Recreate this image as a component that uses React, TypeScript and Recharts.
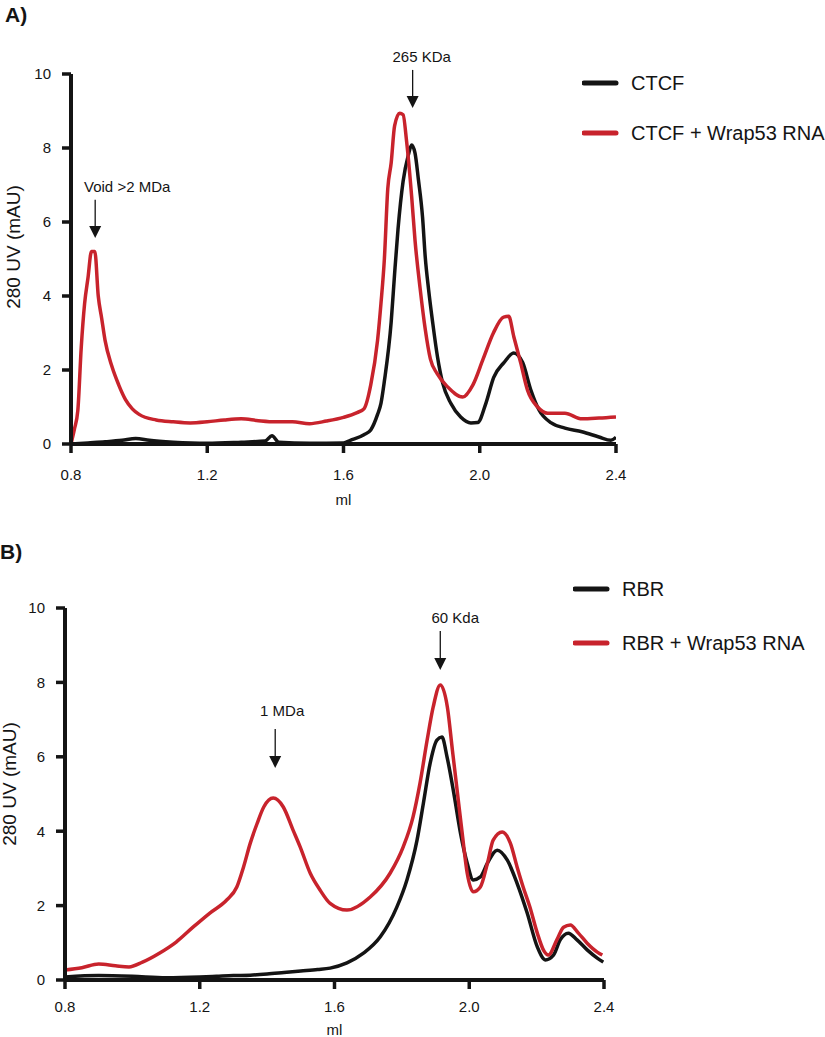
import { Legend, Line, LineChart, ReferenceLine, XAxis, YAxis } from "recharts"

const FONT = '"Liberation Sans", Arial, Helvetica, sans-serif'
const RED = "#c8232c"
const BLACK = "#141414"

const xTicks = [0.8, 1.2, 1.6, 2.0, 2.4]
const yTicks = [0, 2, 4, 6, 8, 10]

// panel A: CTCF
const ctcf = [
  [0.8, 0], [0.85, 0.03], [0.9, 0.06], [0.95, 0.1], [0.99, 0.15], [1.03, 0.1], [1.1, 0.05],
  [1.2, 0.02], [1.3, 0.05], [1.37, 0.08], [1.39, 0.22], [1.41, 0.05], [1.5, 0.02], [1.6, 0.03],
  [1.62, 0.1], [1.66, 0.25], [1.68, 0.38], [1.7, 0.8], [1.71, 1.1], [1.72, 1.7], [1.74, 3.3],
  [1.75, 4.6], [1.76, 5.8], [1.775, 7.1], [1.79, 7.8], [1.8, 8.08], [1.81, 7.86], [1.82, 7.14],
  [1.832, 6.14], [1.84, 5.05], [1.85, 4.16], [1.862, 3.27], [1.876, 2.35], [1.891, 1.65],
  [1.915, 1.1], [1.944, 0.73], [1.974, 0.57], [1.994, 0.58], [2.018, 1.1], [2.041, 1.8],
  [2.071, 2.2], [2.1, 2.46], [2.126, 2.2], [2.15, 1.46], [2.174, 0.92], [2.21, 0.57],
  [2.25, 0.43], [2.3, 0.33], [2.35, 0.19], [2.385, 0.1], [2.4, 0.18],
]

const ctcfRna = [
  [0.8, 0], [0.81, 0.4], [0.82, 0.9], [0.83, 2.6], [0.84, 3.8], [0.85, 4.5], [0.86, 5.2],
  [0.87, 5.2], [0.88, 4.0], [0.89, 3.4], [0.9, 2.8], [0.92, 2.1], [0.94, 1.6], [0.96, 1.2],
  [0.98, 0.95], [1.0, 0.8], [1.05, 0.65], [1.1, 0.6], [1.15, 0.57], [1.2, 0.6], [1.25, 0.65],
  [1.3, 0.68], [1.35, 0.63], [1.4, 0.6], [1.45, 0.6], [1.5, 0.55], [1.55, 0.62], [1.6, 0.72],
  [1.64, 0.85], [1.66, 0.95], [1.68, 1.6], [1.7, 2.8], [1.71, 3.8], [1.72, 5.0], [1.73, 6.9],
  [1.74, 7.6], [1.75, 8.6], [1.765, 8.94], [1.775, 8.9], [1.785, 8.2], [1.8, 6.7], [1.81, 5.5],
  [1.825, 4.2], [1.84, 3.1], [1.855, 2.3], [1.875, 1.9], [1.905, 1.55], [1.95, 1.27],
  [1.98, 1.6], [2.01, 2.3], [2.04, 3.0], [2.07, 3.43], [2.085, 3.45], [2.1, 2.9], [2.12, 2.2],
  [2.14, 1.46], [2.17, 1.0], [2.2, 0.83], [2.25, 0.83], [2.3, 0.68], [2.35, 0.7], [2.4, 0.73],
]

// panel B: RBR
const rbr = [
  [0.8, 0.08], [0.9, 0.12], [1.0, 0.1], [1.1, 0.06], [1.2, 0.08], [1.25, 0.1], [1.3, 0.12],
  [1.35, 0.13], [1.4, 0.16], [1.45, 0.2], [1.5, 0.24], [1.55, 0.28], [1.587, 0.32],
  [1.637, 0.46], [1.686, 0.72], [1.736, 1.16], [1.785, 1.96], [1.815, 2.69], [1.845, 3.76],
  [1.864, 4.76], [1.884, 5.83], [1.904, 6.45], [1.919, 6.53], [1.934, 6.0], [1.954, 5.03],
  [1.974, 3.95], [1.994, 3.14], [2.012, 2.69], [2.033, 2.77], [2.054, 3.14], [2.083, 3.49],
  [2.113, 3.22], [2.142, 2.6], [2.172, 1.8], [2.202, 0.89], [2.226, 0.54], [2.25, 0.67],
  [2.27, 1.08], [2.294, 1.26], [2.32, 1.08], [2.35, 0.81], [2.38, 0.59], [2.398, 0.48],
]

const rbrRna = [
  [0.8, 0.27], [0.85, 0.33], [0.9, 0.43], [0.95, 0.38], [0.99, 0.35], [1.03, 0.48],
  [1.08, 0.72], [1.13, 1.02], [1.18, 1.42], [1.23, 1.8], [1.28, 2.15], [1.31, 2.5],
  [1.33, 3.04], [1.35, 3.68], [1.37, 4.2], [1.39, 4.65], [1.418, 4.89], [1.448, 4.65],
  [1.477, 4.03], [1.498, 3.58], [1.528, 2.87], [1.557, 2.42], [1.587, 2.06], [1.637, 1.88],
  [1.706, 2.23], [1.765, 2.87], [1.804, 3.58], [1.833, 4.38], [1.854, 5.3], [1.875, 6.45],
  [1.893, 7.34], [1.914, 7.93], [1.935, 7.34], [1.95, 6.18], [1.964, 5.1], [1.979, 3.95],
  [1.994, 2.87], [2.012, 2.37], [2.033, 2.5], [2.054, 3.14], [2.071, 3.76], [2.098, 3.98],
  [2.122, 3.68], [2.142, 3.04], [2.16, 2.5], [2.18, 1.96], [2.202, 1.26], [2.22, 0.81],
  [2.235, 0.67], [2.26, 1.08], [2.28, 1.42], [2.3, 1.48], [2.324, 1.26], [2.35, 0.99],
  [2.38, 0.75], [2.395, 0.67],
]

// arrows: x position (ml), shaft top and tip (mAU)
const markersA = [
  { text: "265 KDa", ml: 1.803, top: 10.11, tip: 9.08, dx: 9, dy: 8 },
  { text: "Void >2 MDa", ml: 0.871, top: 6.6, tip: 5.57, dx: 32, dy: 8 },
]
const markersB = [
  { text: "60 Kda", ml: 1.914, top: 9.38, tip: 8.33, dx: 15, dy: 8 },
  { text: "1 MDa", ml: 1.424, top: 6.75, tip: 5.7, dx: 7, dy: 13 },
]

const toPoints = (rows: number[][]) => rows.map(([ml, v]) => ({ ml, v }))

function arrowShape(text: string, dx: number, dy: number) {
  return (props: any) => {
    const { x1, y1, x2, y2 } = props
    return (
      <g>
        <line x1={x1} y1={y1} x2={x2} y2={y2 - 10} stroke={BLACK} strokeWidth={1.3} />
        <polygon points={`${x2 - 6},${y2 - 12} ${x2 + 6},${y2 - 12} ${x2},${y2}`} fill={BLACK} />
        <text x={x1 + dx} y={y1 - dy} textAnchor="middle" fontSize={15} fontFamily={FONT} fill={BLACK}>
          {text}
        </text>
      </g>
    )
  }
}

function LegendBox({ payload, rowHeight }: any) {
  return (
    <div style={{ fontFamily: FONT, fontSize: 20, color: BLACK }}>
      {(payload ?? []).map((item: any) => (
        <div key={item.value} style={{ display: "flex", alignItems: "center", height: rowHeight }}>
          <svg width={49} height={10} style={{ flex: "none" }}>
            <line x1={2} y1={5} x2={34} y2={5} stroke={item.color} strokeWidth={5} strokeLinecap="round" />
          </svg>
          <span style={{ whiteSpace: "nowrap" }}>{item.value}</span>
        </div>
      ))}
    </div>
  )
}

interface PanelProps {
  top: number
  height: number
  margin: { top: number; right: number; bottom: number; left: number }
  xAxisHeight: number
  tickMargin: number
  black: number[][]
  red: number[][]
  blackName: string
  redName: string
  markers: typeof markersA
  legendPos: { left: number; top: number }
  legendRow: number
}

function Panel(p: PanelProps) {
  return (
    <div style={{ position: "absolute", left: 0, top: p.top }}>
      <LineChart width={825} height={p.height} margin={p.margin}>
        <XAxis
          type="number"
          dataKey="ml"
          domain={[0.8, 2.4]}
          ticks={xTicks}
          interval={0}
          allowDataOverflow
          tickFormatter={(v: number) => v.toFixed(1)}
          height={p.xAxisHeight}
          axisLine={{ stroke: BLACK, strokeWidth: 4 }}
          tickLine={{ stroke: BLACK, strokeWidth: 3.5 }}
          tickSize={9}
          tickMargin={p.tickMargin}
          tick={{ fill: BLACK, fontSize: 15, fontFamily: FONT }}
          label={{ value: "ml", position: "insideBottom", offset: 3, fill: BLACK, fontSize: 15, fontFamily: FONT }}
        />
        <YAxis
          type="number"
          domain={[0, 10]}
          ticks={yTicks}
          interval={0}
          width={50}
          axisLine={{ stroke: BLACK, strokeWidth: 4 }}
          tickLine={{ stroke: BLACK, strokeWidth: 3.5 }}
          tickSize={9}
          tickMargin={11}
          tick={{ fill: BLACK, fontSize: 15, fontFamily: FONT }}
        />
        <Line
          data={toPoints(p.black)}
          dataKey="v"
          name={p.blackName}
          type="monotone"
          stroke={BLACK}
          strokeWidth={3.5}
          dot={false}
          activeDot={false}
          isAnimationActive={false}
        />
        <Line
          data={toPoints(p.red)}
          dataKey="v"
          name={p.redName}
          type="monotone"
          stroke={RED}
          strokeWidth={3.5}
          dot={false}
          activeDot={false}
          isAnimationActive={false}
        />
        {p.markers.map((m) => (
          <ReferenceLine
            key={m.text}
            segment={[{ x: m.ml, y: m.top }, { x: m.ml, y: m.tip }]}
            ifOverflow="visible"
            shape={arrowShape(m.text, m.dx, m.dy)}
          />
        ))}
        <Legend
          layout="vertical"
          align="center"
          verticalAlign="middle"
          wrapperStyle={{ left: p.legendPos.left, top: p.legendPos.top, width: 240 }}
          content={(props: any) => <LegendBox {...props} rowHeight={p.legendRow} />}
        />
      </LineChart>
    </div>
  )
}

const yTitle: React.CSSProperties = {
  position: "absolute",
  transform: "translate(-50%, -50%) rotate(-90deg)",
  whiteSpace: "nowrap",
  fontFamily: FONT,
  fontSize: 19,
  color: BLACK,
}

const panelTag: React.CSSProperties = {
  position: "absolute",
  fontFamily: FONT,
  fontSize: 21,
  fontWeight: "bold",
  lineHeight: "22px",
  color: BLACK,
}

export default function App() {
  return (
    <div style={{ position: "absolute", left: 0, top: 0, width: 825, height: 1037, background: "#fff" }}>
      <Panel
        top={0}
        height={520}
        margin={{ top: 74, right: 209, bottom: 12, left: 21 }}
        xAxisHeight={64}
        tickMargin={16}
        black={ctcf}
        red={ctcfRna}
        blackName="CTCF"
        redName="CTCF + Wrap53 RNA"
        markers={markersA}
        legendPos={{ left: 582, top: 58 }}
        legendRow={50}
      />
      <Panel
        top={520}
        height={518}
        margin={{ top: 88, right: 221, bottom: 0, left: 15 }}
        xAxisHeight={58}
        tickMargin={12}
        black={rbr}
        red={rbrRna}
        blackName="RBR"
        redName="RBR + Wrap53 RNA"
        markers={markersB}
        legendPos={{ left: 573, top: 42 }}
        legendRow={54}
      />
      <div style={{ ...panelTag, left: 5, top: 4 }}>A)</div>
      <div style={{ ...panelTag, left: 0, top: 541 }}>B)</div>
      <div style={{ ...yTitle, left: 14, top: 247 }}>280 UV (mAU)</div>
      <div style={{ ...yTitle, left: 10, top: 784 }}>280 UV (mAU)</div>
    </div>
  )
}
